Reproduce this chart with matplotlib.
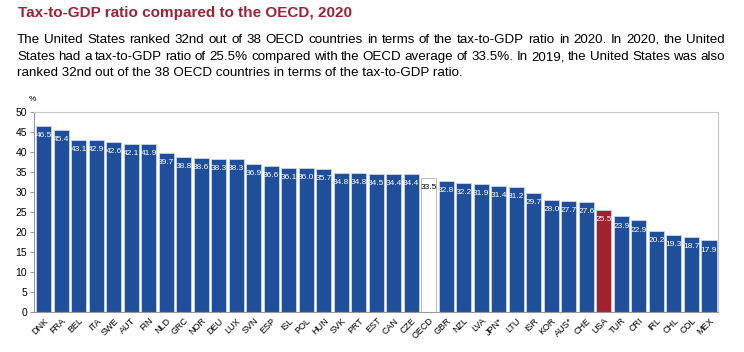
import matplotlib
matplotlib.use("Agg")
import matplotlib.pyplot as plt
from matplotlib import font_manager

# data
countries = ["DNK", "FRA", "BEL", "ITA", "SWE", "AUT", "FIN", "NLD", "GRC", "NOR",
             "DEU", "LUX", "SVN", "ESP", "ISL", "POL", "HUN", "SVK", "PRT", "EST",
             "CAN", "CZE", "OECD", "GBR", "NZL", "LVA", "JPN*", "LTU", "ISR", "KOR",
             "AUS*", "CHE", "USA", "TUR", "CRI", "IRL", "CHL", "COL", "MEX"]
ratios = [46.5, 45.4, 43.1, 42.9, 42.6, 42.1, 41.9, 39.7, 38.8, 38.6,
          38.3, 38.3, 36.9, 36.6, 36.1, 36.0, 35.7, 34.8, 34.8, 34.5,
          34.4, 34.4, 33.5, 32.8, 32.2, 31.9, 31.4, 31.2, 29.7, 28.0,
          27.7, 27.6, 25.5, 23.9, 22.9, 20.2, 19.3, 18.7, 17.9]
yticks = [0, 5, 10, 15, 20, 25, 30, 35, 40, 45, 50]

title = "Tax-to-GDP ratio compared to the OECD, 2020"
para = ["The United States ranked 32nd out of 38 OECD countries in terms of the tax-to-GDP ratio in 2020. In 2020, the United",
        "States had a tax-to-GDP ratio of 25.5% compared with the OECD average of 33.5%. In 2019, the United States was also",
        "ranked 32nd out of the 38 OECD countries in terms of the tax-to-GDP ratio."]

names = {f.name for f in font_manager.fontManager.ttflist}
narrow = "Liberation Sans Narrow" if "Liberation Sans Narrow" in names else "Liberation Sans"

BLUE = "#1f4e9a"
RED = "#a3212f"

fig = plt.figure(figsize=(7.44, 3.52), dpi=100)
ax = fig.add_axes([34/744, 1-312/352, 684/744, 200/352])

colors = []
edges = []
for c in countries:
    if c == "OECD":
        colors.append("white"); edges.append("#b0b0b0")
    elif c == "USA":
        colors.append(RED); edges.append("#c9d6ea")
    else:
        colors.append(BLUE); edges.append("#c9d6ea")

x = list(range(len(countries)))
ax.bar(x, ratios, width=0.87, color=colors, edgecolor=edges, linewidth=0.6)
for i, v in enumerate(ratios):
    col = "black" if countries[i] == "OECD" else "white"
    ax.text(i, v - 2.4, f"{v:.1f}", ha="center", va="center", fontsize=6,
            color=col, family=narrow)

ax.set_xlim(-0.55, 38.52)
ax.set_ylim(0, 50)
ax.set_yticks(yticks)
ax.set_yticklabels([str(t) for t in yticks], fontsize=7.5, family=narrow)
ax.set_xticks(x)
ax.set_xticklabels(countries, rotation=45, ha="right", rotation_mode="anchor",
                   fontsize=6.5, family=narrow)
ax.tick_params(axis="x", length=0, pad=3)
ax.tick_params(axis="y", length=3, color="#999999", pad=2)
for s in ax.spines.values():
    s.set_color("#c8c8c8")
    s.set_linewidth(0.8)
ax.spines["left"].set_color("#999999")
ax.spines["bottom"].set_color("#999999")
ax.text(-0.002, 1.06, "%", transform=ax.transAxes, fontsize=6, ha="center",
        va="center", family=narrow)

fig.text(18/744, 1-13/352, title, fontsize=11, weight="bold", color="#9b2335",
         va="center", ha="left", family=narrow)

# justified paragraph
renderer = fig.canvas.get_renderer()
x0, x1 = 17, 725
ys = [40, 57, 73]
fs = 9.6
for li, line in enumerate(para):
    words = line.split(" ")
    y = 1 - ys[li] / 352
    if li == len(para) - 1:
        fig.text(x0/744, y, line, fontsize=fs, va="center", ha="left", family=narrow)
        continue
    objs = [fig.text(0, y, w, fontsize=fs, va="center", ha="left", family=narrow) for w in words]
    widths = [o.get_window_extent(renderer).width for o in objs]
    gap = (x1 - x0 - sum(widths)) / (len(words) - 1)
    pos = x0
    for o, w in zip(objs, widths):
        o.set_x(pos / 744)
        pos += w + gap

fig.savefig("out.png", dpi=100)
